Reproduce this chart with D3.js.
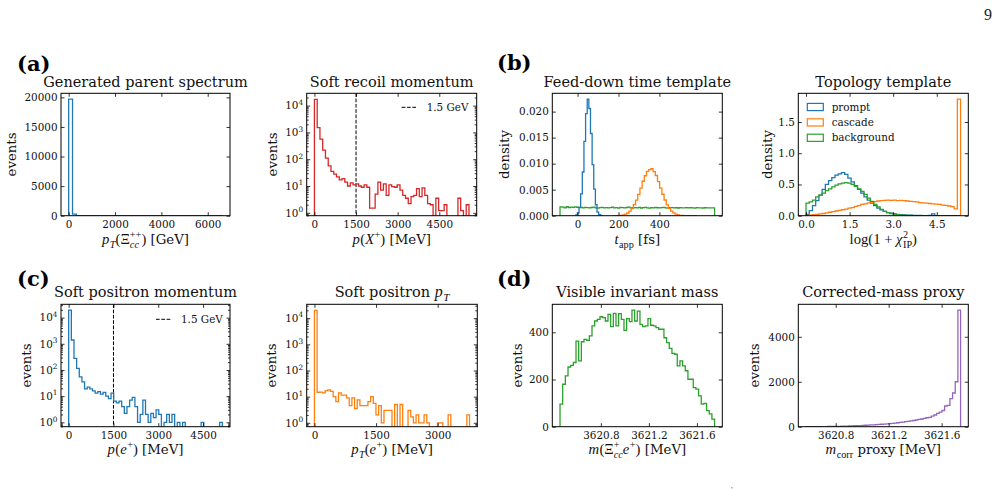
<!DOCTYPE html>
<html><head><meta charset="utf-8">
<script src="https://cdn.jsdelivr.net/npm/d3@7"></script>
<style>body{margin:0;background:#fff}svg{display:block}</style>
</head><body>
<script>
// ---------------- DATA ----------------
const parentRange = [0, 6630];
const parentCounts = [19700,250,25,5,2,1,0,0,0,0,0,0,0,0,0,0,0,0,0,0,0,0,0,0,0,0,0,0,0,0,0,0,0,0,0,0,0,0,0,1];

const recoilRange = [0, 5570];
const recoilCounts = [17000,1500,560,220,110,56,35,28,22,17,19,14,10,13,11,12,10,9,11,9,1.5,1.5,5,14,7,12,4.5,11,9.5,9,11,7,4.5,3.5,2.2,4,4.5,8,4,8.5,4.5,2.2,2,0,3.5,1.2,1.2,2,0,0,0,0,3.5,1.2,0,2];

const tPromptRange = [-9, 119];
const tPrompt = [0.00013,0.00055,0.0016,0.0042,0.0084,0.0143,0.0196,0.0224,0.0206,0.0158,0.0098,0.0051,0.0021,0.0007,0.0002,0.00005];
const tCascadeRange = [176, 584];
const tCascade = [0.00001,0.00002,0.00004,0.00008,0.00016,0.0003,0.00052,0.00088,0.00138,0.00212,0.00298,0.0041,0.00528,0.00662,0.00768,0.00852,0.00885,0.00902,0.00848,0.00772,0.00655,0.0053,0.00412,0.00302,0.00208,0.0014,0.00088,0.00053,0.0003,0.00016,0.00008,0.00004,0.00002,0.00001,0.00001,0,0,0];
const tBackgroundRange = [-86, 670];
const tBackground = [0.00168,0.00165,0.0015,0.00172,0.00158,0.00166,0.0016,0.00171,0.00162,0.00155,0.00158,0.0015,0.00161,0.00154,0.00149,0.00158,0.00163,0.00152,0.00147,0.00156,0.0016,0.00151,0.00155,0.00149,0.00157,0.00162,0.0015,0.00154,0.00146,0.00159,0.00155,0.00151,0.00158,0.00165,0.00149,0.00153,0.00157,0.0015,0.00161,0.00148,0.00154,0.00159,0.00152,0.00147,0.00156,0.0015,0.00158,0.00153,0.00149,0.00155,0.0016,0.00151,0.00147,0.00154,0.00157,0.0015,0.00153,0.00148,0.00156,0.00152,0.0015,0.00155,0.00149,0.00153,0.00151,0.00147,0.00154,0.0015,0.00152,0.00148,0.00153,0.0015,0.00149,0.00151,0.0015];

const topoRange = [0, 5.32];
const topoPrompt = [0.02,0.08,0.16,0.24,0.33,0.42,0.5,0.56,0.61,0.65,0.67,0.69,0.66,0.6,0.54,0.48,0.42,0.36,0.3,0.25,0.2,0.16,0.12,0.095,0.07,0.05,0.04,0.03,0.022,0.016,0.012,0.009,0.007,0.005,0.004,0.003,0.002,0.002,0.004,0.03,0,0,0,0,0,0,0,0];
const topoCascade = [0.005,0.01,0.015,0.02,0.03,0.035,0.045,0.055,0.065,0.075,0.085,0.095,0.105,0.12,0.13,0.15,0.16,0.18,0.19,0.205,0.215,0.225,0.235,0.24,0.245,0.25,0.245,0.25,0.24,0.245,0.24,0.235,0.23,0.225,0.22,0.21,0.205,0.2,0.195,0.19,0.185,0.18,0.17,0.165,0.155,0.145,0.11,1.866];
const topoBackground = [0.2,0.22,0.25,0.3,0.33,0.36,0.4,0.43,0.46,0.49,0.51,0.52,0.53,0.52,0.5,0.47,0.43,0.39,0.34,0.28,0.23,0.18,0.14,0.1,0.07,0.05,0.035,0.025,0.015,0.01,0.007,0.004,0.003,0.002,0.001,0,0,0,0,0,0,0,0,0,0,0,0,0];

const positronRange = [0, 5144];
const positronCounts = [19500,1400,280,115,55,35,19,22,19,16,13,15,12,14,10,8,13,6.5,5.5,6.5,4,2.2,4,7,9,4,1,2,7,2,1,2.2,1.5,3,2,0,1,2,1,2,0,1,0,1,0,0,0,0,0,0,1,0,0,0,0,0,0,1];

const positronPtRange = [0, 3776];
const positronPtCounts = [20000,14.7,15,14,17,18,16,10,6.5,14,11.5,11.5,9,4.5,9,3.5,7.5,4.5,4.5,4.5,6.5,10,5.5,2,4.5,1,3,3,3,0,5,0,5,0,0,3,1.7,1,2,1,1,2,1,0,0,0,1,1,0,0,2,0,0,0,0,0,0,2];

const visMassRange = [3620.46, 3621.747];
const visMassCounts = [96,180,215,253,260,272,363,279,360,370,366,385,427,448,455,466,462,448,476,424,480,427,479,455,408,458,445,494,448,490,434,424,427,458,430,427,420,413,413,377,356,332,311,307,258,279,258,237,201,201,166,159,131,96,99,68,54,32];

const corrMassRange = [3620.576, 3621.743];
const corrMassCounts = [1,1,2,2,3,4,5,6,8,10,12,15,17,21,24,28,32,36,42,47,52,57,64,70,77,83,92,99,108,118,127,139,150,161,176,189,205,222,236,256,276,298,322,343,368,398,418,470,520,590,650,720,920,950,1250,1500,2000,5185];

const ticksParentX = [0,2000,4000,6000];
const ticksParentY = [0,5000,10000,15000,20000];
const ticksMomX = [0,1500,3000,4500];
const ticksPtX = [0,1500,3000];
const ticksLogY = [1,10,100,1000,10000];
const ticksTimeX = [0,200,400];
const ticksTimeY = [0,0.005,0.01,0.015,0.02];
const ticksTopoX = [0,1.5,3.0,4.5];
const ticksTopoY = [0,0.5,1.0,1.5];
const ticksMassX = [3620.8,3621.2,3621.6];
const ticksVisY = [0,200,400];
const ticksCorrY = [0,2000,4000];
const cutValue = 1500;

// ---------------- DRAW ----------------
const C = {blue:'#1f77b4', orange:'#ff7f0e', green:'#2ca02c', red:'#d62728', purple:'#9467bd'};
const TXT = 'DejaVu Serif';
const MATH = 'Liberation Serif';
const svg = d3.select('body').append('svg').attr('width',1001).attr('height',489);

function padded(r){const d=r[1]-r[0];return [r[0]-0.05*d, r[1]+0.05*d];}
function stepPoints(range, counts){
  const n=counts.length, w=(range[1]-range[0])/n;
  const pts=[[range[0],0]];
  counts.forEach((c,i)=>{pts.push([range[0]+i*w,c]);pts.push([range[0]+(i+1)*w,c]);});
  pts.push([range[1],0]);
  return pts;
}
function richText(parent, x, y, pieces, size, anchor){
  const g = parent.append('g');
  let cx=0, prevStart=0, prevEnd=0;
  pieces.forEach(p=>{
    const small = p.sub||p.sup;
    const fs = size*(p.math?1.1:1)*(small?0.7:1);
    const t = g.append('text').attr('font-family',p.math?MATH:TXT)
      .attr('font-style',p.it?'italic':'normal').attr('font-size',fs)
      .attr('fill','#111').text(p.t);
    const dy = p.sub? size*0.3 : p.sup? -size*0.42 : 0;
    const sx = p.stack? prevStart : cx;
    t.attr('x',sx).attr('y',dy).attr('xml:space','preserve').style('white-space','pre');
    const w = t.node().getComputedTextLength() + (p.it&&!small?0.5:0);
    if(p.stack){cx=Math.max(prevEnd,sx+w);} else {prevStart=sx;prevEnd=sx+w;cx=sx+w;}
  });
  const off = anchor==='middle'? -cx/2 : anchor==='end'? -cx : 0;
  g.attr('transform',`translate(${x+off},${y})`);
  return g;
}

function styleAxis(sel){
  sel.select('.domain').remove();
  sel.selectAll('.tick line').attr('stroke','#000').attr('stroke-width',0.8);
  sel.selectAll('.tick text').attr('font-family',TXT).attr('font-size',10.4).attr('fill','#111');
}

function panel(cfg){
  const {left,top,width,height} = cfg;
  const g = svg.append('g').attr('transform',`translate(${left},${top})`);
  const x = d3.scaleLinear().domain(cfg.xDomain).range([0,width]);
  const y = cfg.log ? d3.scaleLog().domain(cfg.yDomain).range([height,0])
                    : d3.scaleLinear().domain(cfg.yDomain).range([height,0]);
  const cid='clip'+cfg.id;
  g.append('clipPath').attr('id',cid).append('rect').attr('width',width).attr('height',height);
  const plot = g.append('g').attr('clip-path',`url(#${cid})`);
  if(cfg.vline!==undefined){
    plot.append('line').attr('x1',x(cfg.vline)).attr('x2',x(cfg.vline)).attr('y1',0).attr('y2',height)
      .attr('stroke','#000').attr('stroke-width',1).attr('stroke-dasharray','3.7,1.6');
  }
  cfg.series.forEach(s=>{
    const line = d3.line().x(d=>x(d[0])).y(d=>y(cfg.log?Math.max(d[1],1e-3):d[1]));
    plot.append('path').attr('d',line(stepPoints(s.range,s.counts))).attr('fill','none')
      .attr('stroke',s.color).attr('stroke-width',1.3).attr('stroke-linejoin','miter');
  });
  const bx = g.append('g').attr('transform',`translate(0,${height})`)
    .call(d3.axisBottom(x).tickValues(cfg.xTicks).tickSize(-3.5).tickPadding(4.5).tickFormat(cfg.xFmt));
  styleAxis(bx);
  const tx = g.append('g').call(d3.axisTop(x).tickValues(cfg.xTicks).tickSize(-3.5).tickFormat(''));
  styleAxis(tx);
  const ly = g.append('g').call(d3.axisLeft(y).tickValues(cfg.yTicks).tickSize(-3.5).tickPadding(3.5)
    .tickFormat(cfg.log?(()=>''):cfg.yFmt));
  styleAxis(ly);
  const ry = g.append('g').attr('transform',`translate(${width},0)`)
    .call(d3.axisRight(y).tickValues(cfg.yTicks).tickSize(-3.5).tickFormat(''));
  styleAxis(ry);
  if(cfg.log){
    ly.selectAll('.tick text').each(function(d){
      const t=d3.select(this);
      t.append('tspan').text('10');
      t.append('tspan').attr('dy',-4.5).attr('font-size',7.4).text(Math.round(Math.log10(d)));
    });
    const minors=[];
    for(let k=-1;k<=5;k++) for(let m=2;m<=9;m++){const v=m*Math.pow(10,k); if(v>cfg.yDomain[0]&&v<cfg.yDomain[1]) minors.push(v);}
    styleAxis(g.append('g').call(d3.axisLeft(y).tickValues(minors).tickSize(-2).tickFormat('')));
    styleAxis(g.append('g').attr('transform',`translate(${width},0)`).call(d3.axisRight(y).tickValues(minors).tickSize(-2).tickFormat('')));
  }
  g.append('rect').attr('width',width).attr('height',height).attr('fill','none').attr('stroke','#000').attr('stroke-width',1);
  richText(svg, left+width/2, cfg.titleY, cfg.title, 14.5, 'middle');
  richText(svg, left+width/2, cfg.xlabY, cfg.xlab, 13.3, 'middle');
  svg.append('text').attr('transform',`translate(${cfg.ylabX},${top+height/2}) rotate(-90)`)
    .attr('dy','0.3em').attr('text-anchor','middle').attr('font-family',TXT).attr('font-size',13.3)
    .attr('fill','#111').text(cfg.ylab);
  return {g,x,y};
}

const R1 = {top:93.3, height:122.4, titleY:87.3, xlabY:244};
const R2 = {top:304.3, height:122.4, titleY:297, xlabY:454};
const fmtInt = d3.format('d');

panel({id:1, left:61, width:169, ...R1, xDomain:padded(parentRange), yDomain:[0,d3.max(parentCounts)*1.05],
  xTicks:ticksParentX, yTicks:ticksParentY, xFmt:fmtInt, yFmt:fmtInt,
  series:[{range:parentRange,counts:parentCounts,color:C.blue}],
  title:[{t:'Generated parent spectrum'}], ylab:'events', ylabX:11.7,
  xlab:[{t:'p',math:1,it:1},{t:'T',math:1,it:1,sub:1},{t:'(Ξ',math:1},{t:'cc',math:1,it:1,sub:1},{t:'++',math:1,sup:1,stack:1},{t:')',math:1},{t:' [GeV]'}]});

panel({id:2, left:306.7, width:170, ...R1, log:true, xDomain:padded(recoilRange), yDomain:[0.78,28800],
  xTicks:ticksMomX, yTicks:ticksLogY, xFmt:fmtInt, vline:cutValue,
  series:[{range:recoilRange,counts:recoilCounts,color:C.red}],
  title:[{t:'Soft recoil momentum'}], ylab:'events', ylabX:273.3,
  xlab:[{t:'p',math:1,it:1},{t:'(',math:1},{t:'X',math:1,it:1},{t:'+',math:1,sup:1},{t:')',math:1},{t:' [MeV]'}]});

panel({id:3, left:552.3, width:170, ...R1, xDomain:padded(tBackgroundRange), yDomain:[0,d3.max(tPrompt)*1.05],
  xTicks:ticksTimeX, yTicks:ticksTimeY, xFmt:fmtInt, yFmt:d3.format('.3f'),
  series:[{range:tBackgroundRange,counts:tBackground,color:C.green},{range:tPromptRange,counts:tPrompt,color:C.blue},{range:tCascadeRange,counts:tCascade,color:C.orange}],
  title:[{t:'Feed-down time template'}], ylab:'density', ylabX:505,
  xlab:[{t:'t',math:1,it:1},{t:'app',math:1,sub:1},{t:' [fs]'}]});

panel({id:4, left:798.3, width:170, ...R1, xDomain:padded(topoRange), yDomain:[0,d3.max(topoCascade)*1.05],
  xTicks:ticksTopoX, yTicks:ticksTopoY, xFmt:d3.format('.1f'), yFmt:d3.format('.1f'),
  series:[{range:topoRange,counts:topoPrompt,color:C.blue},{range:topoRange,counts:topoCascade,color:C.orange},{range:topoRange,counts:topoBackground,color:C.green}],
  title:[{t:'Topology template'}], ylab:'density', ylabX:768.3,
  xlab:[{t:'log(1 + ',math:1},{t:'χ',math:1,it:1},{t:'2',math:1,sup:1},{t:'IP',math:1,sub:1,stack:1},{t:')',math:1}]});

panel({id:5, left:61, width:169, ...R2, log:true, xDomain:padded(positronRange), yDomain:[0.68,32400],
  xTicks:ticksMomX, yTicks:ticksLogY, xFmt:fmtInt, vline:cutValue,
  series:[{range:positronRange,counts:positronCounts,color:C.blue}],
  title:[{t:'Soft positron momentum'}], ylab:'events', ylabX:26.7,
  xlab:[{t:'p',math:1,it:1},{t:'(',math:1},{t:'e',math:1,it:1},{t:'+',math:1,sup:1},{t:')',math:1},{t:' [MeV]'}]});

panel({id:6, left:306.7, width:170.6, ...R2, log:true, xDomain:padded(positronPtRange), yDomain:[0.71,33900],
  xTicks:ticksPtX, yTicks:ticksLogY, xFmt:fmtInt,
  series:[{range:positronPtRange,counts:positronPtCounts,color:C.orange}],
  title:[{t:'Soft positron '},{t:'p',math:1,it:1},{t:'T',math:1,it:1,sub:1}], ylab:'events', ylabX:271.7,
  xlab:[{t:'p',math:1,it:1},{t:'T',math:1,it:1,sub:1},{t:'(',math:1},{t:'e',math:1,it:1},{t:'+',math:1,sup:1},{t:')',math:1},{t:' [MeV]'}]});

panel({id:7, left:552.3, width:170, ...R2, xDomain:padded(visMassRange), yDomain:[0,d3.max(visMassCounts)*1.05],
  xTicks:ticksMassX, yTicks:ticksVisY, xFmt:d3.format('.1f'), yFmt:fmtInt,
  series:[{range:visMassRange,counts:visMassCounts,color:C.green}],
  title:[{t:'Visible invariant mass'}], ylab:'events', ylabX:518.3,
  xlab:[{t:'m',math:1,it:1},{t:'(Ξ',math:1},{t:'cc',math:1,it:1,sub:1},{t:'+',math:1,sup:1,stack:1},{t:'e',math:1,it:1},{t:'+',math:1,sup:1},{t:')',math:1},{t:' [MeV]'}]});

panel({id:8, left:798.3, width:170, ...R2, xDomain:padded(corrMassRange), yDomain:[0,d3.max(corrMassCounts)*1.05],
  xTicks:ticksMassX, yTicks:ticksCorrY, xFmt:d3.format('.1f'), yFmt:fmtInt,
  series:[{range:corrMassRange,counts:corrMassCounts,color:C.purple}],
  title:[{t:'Corrected-mass proxy'}], ylab:'events', ylabX:755,
  xlab:[{t:'m',math:1,it:1},{t:'corr',math:1,sub:1},{t:' proxy [MeV]'}]});

function dashLegend(x0,y0){
  svg.append('line').attr('x1',x0).attr('x2',x0+15).attr('y1',y0).attr('y2',y0)
    .attr('stroke','#000').attr('stroke-width',1).attr('stroke-dasharray','3.7,1.6');
  svg.append('text').attr('x',x0+25).attr('y',y0+3.7).attr('font-family',TXT).attr('font-size',10.4).attr('fill','#111').text('1.5 GeV');
}
dashLegend(401.7,107.3);
dashLegend(156,319.3);
const topoLegend = [{name:'prompt',color:C.blue},{name:'cascade',color:C.orange},{name:'background',color:C.green}];
topoLegend.forEach((d,i)=>{
  const yc = 107 + i*15.4;
  svg.append('rect').attr('x',807.3).attr('y',yc-3.6).attr('width',16).attr('height',7.2)
    .attr('fill','none').attr('stroke',d.color).attr('stroke-width',1.2);
  svg.append('text').attr('x',831.7).attr('y',yc+3.6).attr('font-family',TXT).attr('font-size',10.4).attr('fill','#111').text(d.name);
});

[['(a)',17,70.7],['(b)',497,69.8],['(c)',17,286],['(d)',497,286]].forEach(d=>{
  svg.append('text').attr('x',d[1]).attr('y',d[2]).attr('font-family',TXT).attr('font-weight','bold')
    .attr('font-size',21).attr('fill','#000').text(d[0]);
});
svg.append('text').attr('x',984).attr('y',19.5).attr('font-family',MATH).attr('font-size',16).attr('fill','#222').text('9');
svg.append('rect').attr('x',731).attr('y',487).attr('width',1.5).attr('height',1.5).attr('fill','#aaa');
</script>
</body></html>
